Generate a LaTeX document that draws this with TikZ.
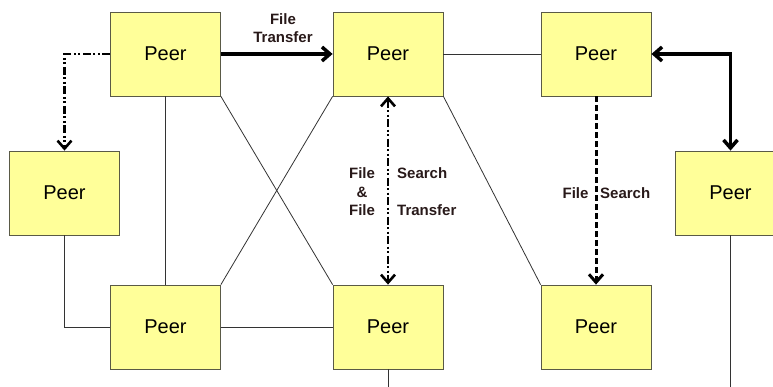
\documentclass[tikz,border=0pt]{standalone}
\usepackage{fontspec}
\setmainfont{Liberation Sans}
\usetikzlibrary{arrows.meta}
\definecolor{peerfill}{RGB}{255,255,153}
\definecolor{peerline}{RGB}{90,90,70}
\definecolor{labeltext}{RGB}{40,25,25}
\tikzset{
  peer/.style={draw=peerline, line width=0.8pt, fill=peerfill,
    minimum width=110pt, minimum height=84pt, inner sep=0pt,
    font=\fontsize{20}{24}\selectfont},
  link/.style={draw=black!80, line width=0.8pt},
  tip/.style={-{Straight Barb[length=8pt,width=14pt]}},
  bothtips/.style={{Straight Barb[length=8pt,width=14pt]}-{Straight Barb[length=8pt,width=14pt]}},
  transfer/.style={line width=3.5pt},
  dashdotdot/.style={line width=2.6pt,
    dash pattern=on 8pt off 2.5pt on 2pt off 2.5pt on 2pt off 2.5pt},
  searchline/.style={line width=3pt, dash pattern=on 6pt off 3pt},
  lbl/.style={font=\bfseries\fontsize{15}{18.5}\selectfont, text=labeltext, inner sep=0pt}
}
\begin{document}
\begin{tikzpicture}[x=1pt, y=-1pt]
  \useasboundingbox (0,0) rectangle (773,387);

  % peers
  \node[peer] (tl) at (165.5,54)  {Peer};
  \node[peer] (tm) at (388,54)    {Peer};
  \node[peer] (tr) at (596,54)    {Peer};
  \node[peer] (l)  at (64.5,193)  {Peer};
  \node[peer] (r)  at (730.5,193) {Peer};
  \node[peer] (bl) at (165.5,327) {Peer};
  \node[peer] (bm) at (388,327)   {Peer};
  \node[peer] (br) at (596,327)   {Peer};

  % open ends running off the bottom
  \coordinate (bmend) at (388,390);
  \coordinate (rend)  at (730.5,390);

  % plain network links
  \draw[link] (tm.east) -- (tr.west);
  \draw[link] (tl.south) -- (bl.north);
  \draw[link] (tl.south east) -- (bm.north west);
  \draw[link] (tm.south west) -- (bl.north east);
  \draw[link] (tm.south east) -- (br.north west);
  \draw[link] (l.south) |- (bl.west);
  \draw[link] (bl.east) -- (bm.west);
  \draw[link] (bm.south) -- (bmend);
  \draw[link] (r.south) -- (rend);

  % file transfer
  \draw[transfer, tip] (tl.east) -- (tm.west);
  \node[lbl, align=center] (ftlabel) at (283,28) {File\\Transfer};

  % transfer between the right-hand peers
  \draw[transfer, bothtips] (tr.east) -| (r.north);

  % search from the top-left peer
  \draw[dashdotdot, tip] (tl.west) -| (l.north);

  % search and transfer
  \draw[dashdotdot, bothtips] (tm.south) -- (bm.north);
  \node[lbl, align=center] (sfleft) at (362,192) {File\\\&\\File};
  \node[lbl, anchor=west] (sfsearch) at (397,173) {Search};
  \node[lbl, anchor=west] (sftransfer) at (397,210) {Transfer};

  % file search
  \draw[searchline, tip] (tr.south) -- (br.north);
  \node[lbl] (fsfile) at (575.5,193) {File};
  \node[lbl, anchor=west] (fssearch) at (600,193) {Search};
\end{tikzpicture}
\end{document}
